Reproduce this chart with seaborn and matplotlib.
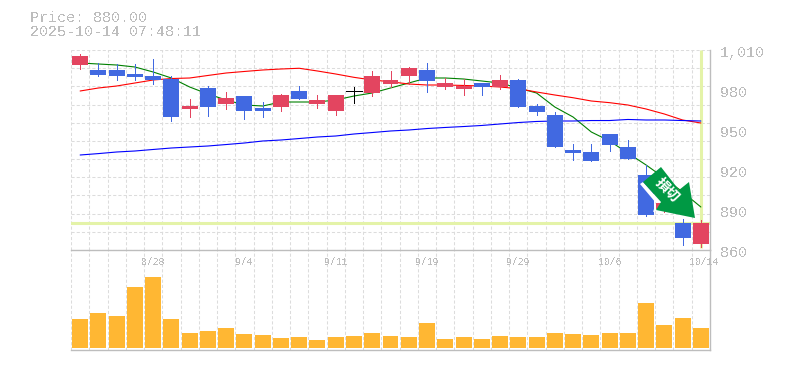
import numpy as np
import pandas as pd
import seaborn as sns
import matplotlib
matplotlib.use('Agg')
import matplotlib.pyplot as plt
from matplotlib.patches import Polygon
from matplotlib.transforms import Affine2D

last_price = 880
price_label = 'Price: 880.00'
time_label = '2025-10-14 07:48:11'

open_ = [998.75, 995, 995, 992, 990.5, 988.25, 965.75, 981.5, 969.5, 975.5, 966.5, 967.25,
         979.25, 969.5, 964.25, 979.25, 977.75, 984.5, 990.5, 995, 982.25, 980.75, 985.25, 982.25,
         987.5, 968, 961.25, 935, 933.5, 947, 937.25, 916.25, 890.75, 880.25, 864.5]
close = [1005.5, 991.25, 990.5, 989.75, 987.5, 959.75, 968, 967.25, 974, 964.25, 964.25, 976.25,
         973.25, 972.5, 976.25, 979.25, 990.5, 987.5, 996.5, 986.75, 985.25, 983, 982.25, 987.5,
         967.25, 963.5, 937.25, 932.75, 926.75, 938.75, 928.25, 886.25, 895.25, 869.25, 880.25]
high = [1007, 1000.25, 999.5, 999.5, 1003.25, 990.5, 973.25, 983, 978.5, 975.5, 971, 977,
        983, 976.25, 976.25, 982.25, 994.25, 994.25, 997.25, 1000.25, 989, 988.25, 985.25, 991.25,
        988.25, 969.5, 963.5, 939.5, 939.5, 947, 942.5, 923.75, 897.5, 883.25, 882.5]
low = [995.75, 990.5, 987.5, 987.5, 984.5, 956.75, 959.75, 960.5, 965.75, 958.25, 959.75, 964.25,
       973.25, 966.5, 961.25, 970.25, 975.5, 982.25, 984.5, 978.5, 980.75, 976.25, 976.25, 980.75,
       967.25, 961.25, 937.25, 927.5, 926.75, 934.25, 928.25, 885.5, 888.5, 863.75, 862.25]

ma_short = [1000.25, 999.5, 998.75, 997.25, 993.5, 989, 982.25, 977, 972.5, 968.75, 968, 971,
            971, 971, 972.5, 975.5, 977.75, 981.5, 985.25, 989, 989, 988.25, 986.75, 985.25,
            981.5, 977.75, 967.25, 959.75, 948.5, 941.75, 932.75, 923.75, 914, 903.5, 892.25]
ma_mid = [979.25, 981.5, 983, 985.25, 987.5, 988.6, 989, 990.9, 992.75, 993.9, 995, 995.75,
          996.3, 994.25, 992, 989.5, 987.5, 986.2, 984.5, 983.75, 983.75, 983.4, 983, 982.25,
          981, 978.5, 976.25, 974.2, 971.75, 970.5, 968.75, 965.75, 962, 957.5, 955.25]
ma_long = [931.25, 932.3, 933.5, 934.25, 935.4, 936.5, 937.25, 938, 939.1, 940.25, 941.75, 942.5,
           943.6, 944.75, 945.5, 947, 948.1, 949.25, 950, 951.1, 951.9, 952.6, 953.4, 954.5,
           955.6, 956.4, 956.75, 956.75, 957.1, 957.1, 957.9, 957.5, 957.5, 957.1, 956.75]

volume = [29, 35, 32, 61, 71, 29, 15, 17, 20, 14, 13, 10, 11, 8, 11, 12, 15, 12,
          11, 25, 9, 11, 9, 12, 11, 11, 15, 14, 13, 15, 15, 45, 23, 30, 20]

date_idx = [4, 9, 14, 19, 24, 29, 34]
date_labels = ['8/28', '9/4', '9/11', '9/19', '9/29', '10/6', '10/14']
price_ticks = [1010, 980, 950, 920, 890, 860]
price_tick_labels = ['1,010', '980', '950', '920', '890', '860']

UP = '#E34560'
DOWN = '#4169E1'
VOL = '#FFB733'
HILITE = '#E4F3A8'
GREY = '#BDBDBD'
GRID = '#DCDCDC'

sns.set_theme(style='white')
plt.rcParams['font.family'] = ['Liberation Mono', 'Noto Sans CJK JP', 'DejaVu Sans']

df = pd.DataFrame({'i': np.arange(len(open_)), 'open': open_, 'close': close, 'high': high,
                   'low': low, 'short': ma_short, 'mid': ma_mid, 'long': ma_long, 'volume': volume})

W, H = 785, 370
fig = plt.figure(figsize=(W / 100, H / 100), dpi=100, facecolor='white')
ax = fig.add_axes([71 / W, 1 - 250 / H, 639 / W, 200 / H])
ax2 = fig.add_axes([71 / W, 1 - 350 / H, 639 / W, 100 / H])
ax.set_zorder(2)
ax.patch.set_visible(False)

# volume panel
sns.barplot(data=df, x='i', y='volume', native_scale=True, color=VOL, saturation=1,
            width=0.876, ax=ax2, zorder=2, edgecolor='none', linewidth=0, antialiased=False,
            legend=False)

# moving averages sit under the candles
for col, c in [('short', '#008000'), ('mid', '#FF0000'), ('long', '#0000FF')]:
    sns.lineplot(data=df, x='i', y=col, color=c, lw=0.8, estimator=None, ax=ax, zorder=3)

# last price cross hair
ax.axhline(last_price, color=HILITE, lw=2.2, zorder=2)
ax.vlines(df['i'].iloc[-1], 861.5, 1010, color=HILITE, lw=2.2, zorder=2)

# candles
for _, r in df.iterrows():
    if r['close'] > r['open']:
        c = UP
    elif r['close'] < r['open']:
        c = DOWN
    else:
        c = 'black'
    ax.vlines(r['i'], r['low'], r['high'], color=c, lw=0.72, zorder=4, antialiased=False)
    if r['close'] == r['open']:
        ax.hlines(r['close'], r['i'] - 0.438, r['i'] + 0.438, color=c, lw=0.72, zorder=4,
                  antialiased=False)
    else:
        ax.bar(r['i'], abs(r['close'] - r['open']), bottom=min(r['open'], r['close']),
               width=0.876, color=c, edgecolor='none', linewidth=0, zorder=5, antialiased=False)

for a in (ax, ax2):
    a.set_xlim(-0.5, 34.5)
    a.set_xticks(np.arange(-0.5, 35, 1))
    a.set_xlabel('')
    a.set_ylabel('')
    a.set_xticklabels([])
    a.tick_params(length=0, labelbottom=False, labelleft=False)
    a.grid(True, axis='x', color=GRID, lw=0.75, ls=(0, (3, 2)), zorder=0)
    a.set_axisbelow(True)
    a.spines['top'].set_visible(False)
    a.spines['left'].set_visible(False)
    for s in ('bottom', 'right'):
        a.spines[s].set_color(GREY)
        a.spines[s].set_linewidth(1.0)

ax.set_ylim(860, 1010)
ax.set_yticks(np.linspace(860, 1010, 12))
ax.set_yticklabels([])
ax.grid(True, axis='y', color=GRID, lw=0.75, ls=(0, (3, 2)), zorder=0)
ax2.set_ylim(-2, 98)
ax2.set_yticks([])

# price labels are drawn 3px under their level
ytr = ax.get_yaxis_transform()
for v, s in zip(price_ticks, price_tick_labels):
    ax.annotate(s, xy=(1, v), xycoords=ytr, xytext=(10, -3), textcoords='offset pixels',
                va='center', ha='left', fontsize=10.8, color=GREY, antialiased=False,
                annotation_clip=False)

xtr = ax.get_xaxis_transform()
for i, s in zip(date_idx, date_labels):
    ax.annotate(s, xy=(i, 0), xycoords=xtr, xytext=(3 if s == '10/14' else 0, -12),
                textcoords='offset pixels', va='center', ha='center', fontsize=7,
                color=GREY, antialiased=False, annotation_clip=False)

fig.text(30 / W, 1 - 18 / H, price_label, fontsize=10.8, color=GREY, va='center', antialiased=False)
fig.text(30 / W, 1 - 32.5 / H, time_label, fontsize=10.8, color=GREY, va='center', antialiased=False)

# stop-loss arrow, placed in pixels from the top left
px = Affine2D().scale(1, -1).translate(0, H)
arrow = [(661, 167), (643, 182), (661, 202), (656, 210), (695, 218), (689, 182), (679, 190)]
edge1 = [(643, 182), (640, 184), (656, 203), (661, 202)]
edge2 = [(656, 203), (653, 212), (656, 211)]
fig.add_artist(Polygon(edge1, closed=True, transform=px, facecolor='white', edgecolor='none', zorder=8))
fig.add_artist(Polygon(edge2, closed=True, transform=px, facecolor='white', edgecolor='none', zorder=8))
fig.add_artist(Polygon(arrow, closed=True, transform=px, facecolor='#009944', edgecolor='none', zorder=9))
fig.text(667 / W, 1 - 190.5 / H, '損切', fontsize=10, fontweight='bold', color='white', rotation=-45,
         rotation_mode='anchor', ha='center', va='center', zorder=10,
         family=['Noto Sans CJK JP', 'DejaVu Sans'])

fig.savefig('out.png', dpi=100)
